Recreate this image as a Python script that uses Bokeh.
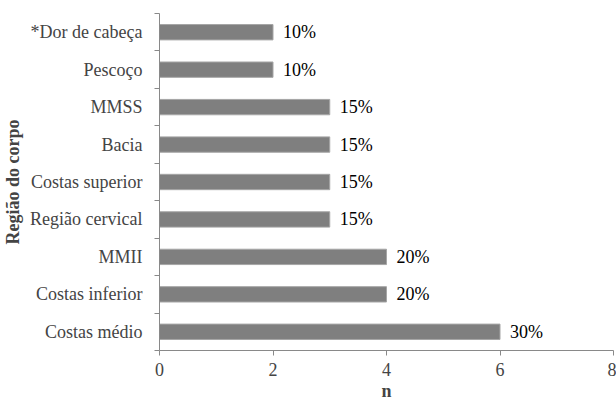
from bokeh.plotting import figure
from bokeh.models import ColumnDataSource, FixedTicker, Range1d
from bokeh.embed import file_html
from bokeh.resources import INLINE
from bokeh.core.properties import value

# data (top to bottom)
regions = ["*Dor de cabeça", "Pescoço", "MMSS", "Bacia", "Costas superior",
           "Região cervical", "MMII", "Costas inferior", "Costas médio"]
counts = [2, 2, 3, 3, 3, 3, 4, 4, 6]
percent_labels = ["10%", "10%", "15%", "15%", "15%", "15%", "20%", "20%", "30%"]
x_ticks = [0, 2, 4, 6, 8]

n = len(regions)
ypos = [n - 1 - i for i in range(n)]

src = ColumnDataSource(dict(y=ypos, v=counts, lab=percent_labels, name=regions))

p = figure(width=616, height=406, output_backend="svg", toolbar_location=None,
           x_range=Range1d(0, 8), y_range=Range1d(-0.5, n - 0.5),
           min_border_left=158, min_border_right=3, min_border_top=13, min_border_bottom=56)
p.outline_line_color = None
p.grid.grid_line_color = None
p.background_fill_color = "white"
p.border_fill_color = "white"

font = "Times New Roman, Liberation Serif, serif"
fs = "18px"

p.hbar(y="y", right="v", left=0, height=0.41, source=src,
       fill_color="#7f7f7f", line_color="#a6a6a6", line_width=1)
p.text(x="v", y="y", text="lab", source=src, x_offset=10, text_baseline="middle",
       text_font=value(font), text_font_size=fs, text_color="black")

# x axis
xa = p.xaxis[0]
xa.ticker = FixedTicker(ticks=x_ticks)
xa.axis_label = "n"
xa.axis_label_text_font = font
xa.axis_label_text_font_style = "bold"
xa.axis_label_text_font_size = fs
xa.major_label_text_font = font
xa.major_label_text_font_size = fs
xa.minor_tick_line_color = None
xa.major_tick_in = 0
xa.major_tick_out = 5
xa.axis_line_color = "#898989"
xa.major_tick_line_color = "#898989"
xa.major_label_standoff = 7
xa.axis_label_standoff = 2

# y axis
ya = p.yaxis[0]
ya.ticker = FixedTicker(ticks=ypos, minor_ticks=[k - 0.5 for k in range(n + 1)])
ya.major_label_overrides = {y: r for y, r in zip(ypos, regions)}
ya.major_tick_in = 0
ya.major_tick_out = 0
ya.minor_tick_in = 0
ya.minor_tick_out = 5
ya.minor_tick_line_color = "#898989"
ya.axis_line_color = "#898989"
ya.major_label_text_font = font
ya.major_label_text_font_size = fs
ya.major_label_standoff = 12
ya.axis_label = "Região do corpo"
ya.axis_label_text_font = font
ya.axis_label_text_font_style = "bold"
ya.axis_label_text_font_size = fs
ya.axis_label_standoff = 4

open("out.html", "w").write(file_html(p, INLINE))
